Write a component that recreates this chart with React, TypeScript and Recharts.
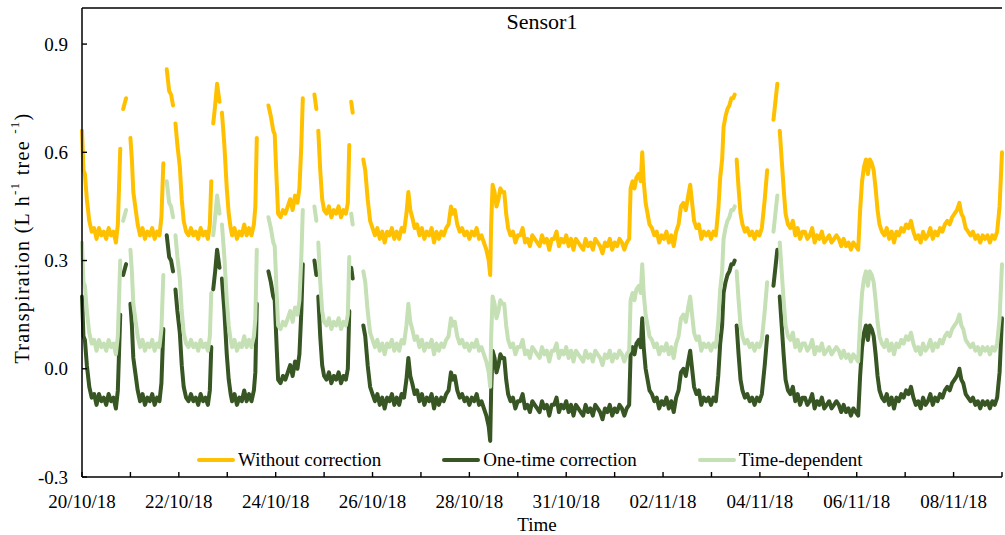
import { Label, Legend, Line, LineChart, ReferenceLine, XAxis, YAxis } from "recharts";

const FONT = '"Liberation Serif", "Times New Roman", serif';
const INK = "#000";

// x positions are in axis intervals (one tick step = 1)
const dateLabels = ["20/10/18", "22/10/18", "24/10/18", "26/10/18", "28/10/18", "31/10/18", "02/11/18", "04/11/18", "06/11/18", "08/11/18"];
const xTicks = [0, 1, 2, 3, 4, 5, 6, 7, 8, 9, 10, 11, 12, 13, 14, 15, 16, 17, 18, 19];
const yTicks = [-0.3, 0, 0.3, 0.6, 0.9];
const seriesNames = ["Without correction", "One-time correction", "Time-dependent"];

const dayIndex = [
  0, 0.03, 0.06, 0.1, 0.15, 0.2, 0.25, 0.3, 0.35, 0.4, 0.45, 0.5, 0.55, 0.6, 0.65, 0.7, 0.74,
  0.79, 0.82, 0.85, 0.91, 0.95, 1, 1.03, 1.06, 1.1, 1.15,
  1.2, 1.25, 1.3, 1.35, 1.4, 1.45, 1.5, 1.55, 1.6, 1.64,
  1.68, 1.72, 1.75, 1.8, 1.84, 1.88, 1.91, 1.93, 1.97, 2.02, 2.06, 2.1, 2.15,
  2.2, 2.25, 2.3, 2.35, 2.4, 2.45, 2.5, 2.55, 2.6, 2.64,
  2.67, 2.69, 2.71, 2.75, 2.79, 2.84, 2.87, 2.89, 2.94, 2.99, 3.03, 3.07,
  3.1, 3.15, 3.2, 3.25, 3.3, 3.35, 3.4, 3.45, 3.5, 3.55, 3.58, 3.61,
  3.64, 3.85, 3.9, 3.95, 3.98, 4.02, 4.05,
  4.1, 4.15, 4.2, 4.25, 4.3, 4.35, 4.4, 4.45, 4.49, 4.53, 4.56,
  4.6, 4.8, 4.84, 4.86, 4.88, 4.92, 4.96, 5,
  5.05, 5.1, 5.15, 5.2, 5.25, 5.3, 5.35, 5.4, 5.45, 5.49, 5.52,
  5.54, 5.56, 5.59, 5.62, 5.81, 5.85, 5.9, 5.95, 6,
  6.05, 6.1, 6.15, 6.2, 6.25, 6.3, 6.35, 6.4, 6.45, 6.5, 6.55, 6.6, 6.65,
  6.7, 6.74, 6.78, 6.82, 6.87, 6.92, 6.97, 7.02, 7.07, 7.12,
  7.17, 7.22, 7.27, 7.32, 7.37, 7.42, 7.47, 7.52, 7.57,
  7.62, 7.66, 7.7, 7.75, 7.8, 7.85, 7.9, 7.95, 8, 8.05, 8.1,
  8.15, 8.2, 8.25, 8.3, 8.35, 8.4, 8.43,
  8.45, 8.48, 8.52, 8.56, 8.6, 8.64, 8.68, 8.72, 8.76, 8.8,
  8.85, 8.9, 8.95, 9, 9.05, 9.1, 9.15, 9.2, 9.25, 9.3, 9.35, 9.4, 9.45, 9.5, 9.55, 9.6, 9.65, 9.7, 9.75, 9.8,
  9.85, 9.9, 9.95, 10, 10.05, 10.1, 10.15, 10.2, 10.25, 10.3, 10.35, 10.4, 10.45, 10.5, 10.55, 10.6, 10.65, 10.7, 10.75, 10.8,
  10.85, 10.9, 10.95, 11, 11.05, 11.1, 11.15, 11.2, 11.25, 11.3,
  11.33, 11.37, 11.41, 11.45, 11.5, 11.54, 11.57, 11.6, 11.64, 11.68, 11.72, 11.77,
  11.82, 11.87, 11.92, 11.97, 12.02, 12.07, 12.12, 12.17, 12.22, 12.27, 12.32,
  12.37, 12.42, 12.47, 12.52, 12.56, 12.6, 12.64, 12.69,
  12.74, 12.79, 12.84, 12.89, 12.94, 12.99, 13.04, 13.09,
  13.14, 13.18, 13.22, 13.25, 13.29, 13.33, 13.37, 13.41, 13.45, 13.48,
  13.5, 13.52, 13.56, 13.6, 13.64, 13.69, 13.74, 13.79, 13.84, 13.89, 13.94, 13.99, 14.04,
  14.1, 14.15, 14.18, 14.28, 14.32, 14.36, 14.38, 14.41, 14.45, 14.49, 14.53, 14.58,
  14.63, 14.68, 14.73, 14.78, 14.83, 14.88, 14.93, 14.98, 15.03, 15.08, 15.13, 15.18, 15.23, 15.28, 15.33, 15.38, 15.43, 15.48, 15.53, 15.58,
  15.63, 15.68, 15.73, 15.78, 15.83, 15.88, 15.93, 15.98, 16.03,
  16.07, 16.11, 16.15, 16.19, 16.23, 16.27, 16.31, 16.35, 16.39, 16.43, 16.47, 16.52,
  16.57, 16.62, 16.67, 16.72, 16.77, 16.82, 16.87, 16.92, 16.97, 17.02, 17.07, 17.12, 17.17, 17.22, 17.27, 17.32, 17.37, 17.42, 17.47, 17.52,
  17.57, 17.62, 17.67, 17.72, 17.77, 17.82, 17.87, 17.92, 17.97, 18.02, 18.07, 18.12, 18.16, 18.2, 18.25, 18.3,
  18.35, 18.4, 18.45, 18.5, 18.55, 18.6, 18.65, 18.7, 18.75, 18.8, 18.85, 18.9, 18.95, 19,
];

// null = missing sample, the line breaks there
const withoutCorrection = [
  0.66, 0.55, 0.54, 0.47, 0.41, 0.38, 0.39, 0.36, 0.39, 0.37, 0.38, 0.36, 0.39, 0.37, 0.38, 0.35, 0.4,
  0.61, null, 0.72, 0.75, null, 0.64, 0.58, 0.49, 0.45, 0.4,
  0.37, 0.39, 0.36, 0.38, 0.37, 0.39, 0.36, 0.38, 0.37, 0.42,
  0.57, null, 0.83, 0.77, 0.76, 0.73, null, 0.68, 0.62, 0.56, 0.47, 0.41, 0.38,
  0.37, 0.39, 0.37, 0.38, 0.36, 0.39, 0.37, 0.38, 0.36, 0.4,
  0.52, null, 0.68, 0.73, 0.79, 0.74, null, 0.71, 0.62, 0.5, 0.43, 0.39,
  0.37, 0.39, 0.36, 0.38, 0.37, 0.4, 0.37, 0.39, 0.37, 0.4, 0.45, 0.64,
  null, 0.73, 0.7, 0.66, 0.65, 0.52, 0.43,
  0.42, 0.44, 0.43, 0.45, 0.47, 0.44, 0.48, 0.46, 0.5, 0.62, 0.75,
  null, 0.76, 0.72, null, 0.66, 0.55, 0.47, 0.44,
  0.43, 0.45, 0.42, 0.44, 0.43, 0.45, 0.42, 0.44, 0.43, 0.46, 0.62,
  null, 0.74, 0.71, null, 0.58, 0.55, 0.47, 0.41, 0.39,
  0.37, 0.39, 0.36, 0.38, 0.35, 0.38, 0.37, 0.39, 0.36, 0.38, 0.36, 0.39, 0.38,
  0.43, 0.49, 0.44, 0.42, 0.39, 0.4, 0.37, 0.39, 0.36, 0.38,
  0.37, 0.39, 0.35, 0.38, 0.36, 0.38, 0.37, 0.39, 0.4,
  0.45, 0.43, 0.44, 0.4, 0.38, 0.39, 0.37, 0.38, 0.36, 0.38, 0.37,
  0.39, 0.36, 0.37, 0.35, 0.33, 0.3, 0.26,
  0.4, 0.51, 0.49, 0.45, 0.47, 0.5, 0.49, 0.49, 0.43, 0.39,
  0.37, 0.38, 0.35, 0.37, 0.37, 0.39, 0.35, 0.36, 0.34, 0.37, 0.36, 0.35, 0.34, 0.37, 0.35, 0.36, 0.33, 0.36, 0.36, 0.38,
  0.34, 0.36, 0.35, 0.37, 0.34, 0.36, 0.33, 0.36, 0.35, 0.34, 0.33, 0.36, 0.34, 0.35, 0.33, 0.36, 0.35, 0.34, 0.32, 0.35,
  0.34, 0.36, 0.33, 0.35, 0.34, 0.36, 0.35, 0.33, 0.35, 0.36,
  0.5, 0.52, 0.5, 0.53, 0.54, 0.52, 0.6, 0.52, 0.46, 0.43, 0.4, 0.39,
  0.37, 0.38, 0.35, 0.37, 0.36, 0.38, 0.35, 0.37, 0.34, 0.38, 0.4,
  0.45, 0.46, 0.44, 0.48, 0.51, 0.46, 0.41, 0.39,
  0.4, 0.36, 0.38, 0.37, 0.38, 0.36, 0.38, 0.37,
  0.44, 0.53, 0.58, 0.67, 0.7, 0.72, 0.73, 0.75, 0.75, 0.76,
  null, 0.58, 0.5, 0.43, 0.4, 0.38, 0.39, 0.37, 0.38, 0.36, 0.38, 0.37, 0.39,
  0.47, 0.55, null, 0.69, 0.74, 0.79, null, 0.66, 0.58, 0.5, 0.43, 0.4,
  0.39, 0.41, 0.37, 0.39, 0.36, 0.38, 0.38, 0.36, 0.37, 0.39, 0.35, 0.37, 0.36, 0.38, 0.35, 0.36, 0.37, 0.35, 0.36, 0.37,
  0.36, 0.34, 0.36, 0.34, 0.35, 0.33, 0.35, 0.34, 0.33,
  0.44, 0.52, 0.56, 0.58, 0.54, 0.58, 0.57, 0.55, 0.5, 0.44, 0.4, 0.38,
  0.37, 0.39, 0.36, 0.38, 0.35, 0.38, 0.37, 0.39, 0.38, 0.4, 0.39, 0.41, 0.38, 0.36, 0.37, 0.35, 0.38, 0.36, 0.37, 0.39,
  0.36, 0.38, 0.37, 0.39, 0.38, 0.4, 0.41, 0.4, 0.42, 0.43, 0.44, 0.46, 0.43, 0.42, 0.39, 0.38,
  0.37, 0.38, 0.36, 0.37, 0.35, 0.37, 0.36, 0.37, 0.35, 0.37, 0.36, 0.38, 0.45, 0.6,
];

const oneTimeCorrection = [
  0.2, 0.09, 0.08, 0.01, -0.05, -0.08, -0.07, -0.1, -0.07, -0.09, -0.08, -0.1, -0.07, -0.09, -0.08, -0.11, -0.06,
  0.15, null, 0.26, 0.29, null, 0.18, 0.12, 0.03, -0.01, -0.06,
  -0.09, -0.07, -0.1, -0.08, -0.09, -0.07, -0.1, -0.08, -0.09, -0.04,
  0.11, null, 0.37, 0.31, 0.3, 0.27, null, 0.22, 0.16, 0.1, 0.01, -0.05, -0.08,
  -0.09, -0.07, -0.09, -0.08, -0.1, -0.07, -0.09, -0.08, -0.1, -0.06,
  0.06, null, 0.22, 0.27, 0.33, 0.28, null, 0.25, 0.16, 0.04, -0.03, -0.07,
  -0.09, -0.07, -0.1, -0.08, -0.09, -0.06, -0.09, -0.07, -0.09, -0.06, -0.01, 0.18,
  null, 0.27, 0.24, 0.2, 0.19, 0.06, -0.03,
  -0.04, -0.02, -0.03, -0.01, 0.01, -0.02, 0.02, 0, 0.04, 0.16, 0.29,
  null, 0.3, 0.26, null, 0.2, 0.09, 0.01, -0.02,
  -0.03, -0.01, -0.04, -0.02, -0.03, -0.01, -0.04, -0.02, -0.03, 0, 0.16,
  null, 0.28, 0.25, null, 0.12, 0.09, 0.01, -0.05, -0.07,
  -0.09, -0.07, -0.1, -0.08, -0.11, -0.08, -0.09, -0.07, -0.1, -0.08, -0.1, -0.07, -0.08,
  -0.03, 0.03, -0.02, -0.04, -0.07, -0.06, -0.09, -0.07, -0.1, -0.08,
  -0.09, -0.07, -0.11, -0.08, -0.1, -0.08, -0.09, -0.07, -0.06,
  -0.01, -0.03, -0.02, -0.06, -0.08, -0.07, -0.09, -0.08, -0.1, -0.08, -0.09,
  -0.07, -0.1, -0.09, -0.11, -0.13, -0.16, -0.2,
  -0.06, 0.05, 0.03, -0.01, 0.01, 0.04, 0.03, 0.03, -0.03, -0.07,
  -0.09, -0.08, -0.11, -0.09, -0.09, -0.07, -0.11, -0.1, -0.12, -0.09, -0.1, -0.11, -0.12, -0.09, -0.11, -0.1, -0.13, -0.1, -0.1, -0.08,
  -0.12, -0.1, -0.11, -0.09, -0.12, -0.1, -0.13, -0.1, -0.11, -0.12, -0.13, -0.1, -0.12, -0.11, -0.13, -0.1, -0.11, -0.12, -0.14, -0.11,
  -0.12, -0.1, -0.13, -0.11, -0.12, -0.1, -0.11, -0.13, -0.11, -0.1,
  0.04, 0.06, 0.04, 0.07, 0.08, 0.06, 0.14, 0.06, 0, -0.03, -0.06, -0.07,
  -0.09, -0.08, -0.11, -0.09, -0.1, -0.08, -0.11, -0.09, -0.12, -0.08, -0.06,
  -0.01, 0, -0.02, 0.02, 0.05, 0, -0.05, -0.07,
  -0.06, -0.1, -0.08, -0.09, -0.08, -0.1, -0.08, -0.09,
  -0.02, 0.07, 0.12, 0.21, 0.24, 0.26, 0.27, 0.29, 0.29, 0.3,
  null, 0.12, 0.04, -0.03, -0.06, -0.08, -0.07, -0.09, -0.08, -0.1, -0.08, -0.09, -0.07,
  0.01, 0.09, null, 0.23, 0.28, 0.33, null, 0.2, 0.12, 0.04, -0.03, -0.06,
  -0.07, -0.05, -0.09, -0.07, -0.1, -0.08, -0.08, -0.1, -0.09, -0.07, -0.11, -0.09, -0.1, -0.08, -0.11, -0.1, -0.09, -0.11, -0.1, -0.09,
  -0.1, -0.12, -0.1, -0.12, -0.11, -0.13, -0.11, -0.12, -0.13,
  -0.02, 0.06, 0.1, 0.12, 0.08, 0.12, 0.11, 0.09, 0.04, -0.02, -0.06, -0.08,
  -0.09, -0.07, -0.1, -0.08, -0.11, -0.08, -0.09, -0.07, -0.08, -0.06, -0.07, -0.05, -0.08, -0.1, -0.09, -0.11, -0.08, -0.1, -0.09, -0.07,
  -0.1, -0.08, -0.09, -0.07, -0.08, -0.06, -0.05, -0.06, -0.04, -0.03, -0.02, 0, -0.03, -0.04, -0.07, -0.08,
  -0.09, -0.08, -0.1, -0.09, -0.11, -0.09, -0.1, -0.09, -0.11, -0.09, -0.1, -0.08, -0.01, 0.14,
];

const timeDependent = [
  0.35, 0.24, 0.23, 0.16, 0.1, 0.07, 0.08, 0.05, 0.08, 0.06, 0.07, 0.05, 0.08, 0.06, 0.07, 0.04, 0.09,
  0.3, null, 0.41, 0.44, null, 0.33, 0.27, 0.18, 0.14, 0.09,
  0.06, 0.08, 0.05, 0.07, 0.06, 0.08, 0.05, 0.07, 0.06, 0.11,
  0.26, null, 0.52, 0.46, 0.45, 0.42, null, 0.37, 0.31, 0.25, 0.16, 0.1, 0.07,
  0.06, 0.08, 0.06, 0.07, 0.05, 0.08, 0.06, 0.07, 0.05, 0.09,
  0.21, null, 0.37, 0.42, 0.48, 0.43, null, 0.4, 0.31, 0.19, 0.12, 0.08,
  0.06, 0.08, 0.05, 0.07, 0.06, 0.09, 0.06, 0.08, 0.06, 0.09, 0.14, 0.33,
  null, 0.42, 0.39, 0.35, 0.34, 0.21, 0.12,
  0.11, 0.13, 0.12, 0.14, 0.16, 0.13, 0.17, 0.15, 0.19, 0.31, 0.44,
  null, 0.45, 0.41, null, 0.35, 0.24, 0.16, 0.13,
  0.12, 0.14, 0.11, 0.13, 0.12, 0.14, 0.11, 0.13, 0.12, 0.15, 0.31,
  null, 0.43, 0.4, null, 0.27, 0.24, 0.16, 0.1, 0.08,
  0.06, 0.08, 0.05, 0.07, 0.04, 0.07, 0.06, 0.08, 0.05, 0.07, 0.05, 0.08, 0.07,
  0.12, 0.18, 0.13, 0.11, 0.08, 0.09, 0.06, 0.08, 0.05, 0.07,
  0.06, 0.08, 0.04, 0.07, 0.05, 0.07, 0.06, 0.08, 0.09,
  0.14, 0.12, 0.13, 0.09, 0.07, 0.08, 0.06, 0.07, 0.05, 0.07, 0.06,
  0.08, 0.05, 0.06, 0.04, 0.02, -0.01, -0.05,
  0.09, 0.2, 0.18, 0.14, 0.16, 0.19, 0.18, 0.18, 0.12, 0.08,
  0.06, 0.07, 0.04, 0.06, 0.06, 0.08, 0.04, 0.05, 0.03, 0.06, 0.05, 0.04, 0.03, 0.06, 0.04, 0.05, 0.02, 0.05, 0.05, 0.07,
  0.03, 0.05, 0.04, 0.06, 0.03, 0.05, 0.02, 0.05, 0.04, 0.03, 0.02, 0.05, 0.03, 0.04, 0.02, 0.05, 0.04, 0.03, 0.01, 0.04,
  0.03, 0.05, 0.02, 0.04, 0.03, 0.05, 0.04, 0.02, 0.04, 0.05,
  0.19, 0.21, 0.19, 0.22, 0.23, 0.21, 0.29, 0.21, 0.15, 0.12, 0.09, 0.08,
  0.06, 0.07, 0.04, 0.06, 0.05, 0.07, 0.04, 0.06, 0.03, 0.07, 0.09,
  0.14, 0.15, 0.13, 0.17, 0.2, 0.15, 0.1, 0.08,
  0.09, 0.05, 0.07, 0.06, 0.07, 0.05, 0.07, 0.06,
  0.13, 0.22, 0.27, 0.36, 0.39, 0.41, 0.42, 0.44, 0.44, 0.45,
  null, 0.27, 0.19, 0.12, 0.09, 0.07, 0.08, 0.06, 0.07, 0.05, 0.07, 0.06, 0.08,
  0.16, 0.24, null, 0.38, 0.43, 0.48, null, 0.35, 0.27, 0.19, 0.12, 0.09,
  0.08, 0.1, 0.06, 0.08, 0.05, 0.07, 0.07, 0.05, 0.06, 0.08, 0.04, 0.06, 0.05, 0.07, 0.04, 0.05, 0.06, 0.04, 0.05, 0.06,
  0.05, 0.03, 0.05, 0.03, 0.04, 0.02, 0.04, 0.03, 0.02,
  0.13, 0.21, 0.25, 0.27, 0.23, 0.27, 0.26, 0.24, 0.19, 0.13, 0.09, 0.07,
  0.06, 0.08, 0.05, 0.07, 0.04, 0.07, 0.06, 0.08, 0.07, 0.09, 0.08, 0.1, 0.07, 0.05, 0.06, 0.04, 0.07, 0.05, 0.06, 0.08,
  0.05, 0.07, 0.06, 0.08, 0.07, 0.09, 0.1, 0.09, 0.11, 0.12, 0.13, 0.15, 0.12, 0.11, 0.08, 0.07,
  0.06, 0.07, 0.05, 0.06, 0.04, 0.06, 0.05, 0.06, 0.04, 0.06, 0.05, 0.07, 0.14, 0.29,
];

const rows = dayIndex.map((t, i) => ({
  t,
  without: withoutCorrection[i],
  oneTime: oneTimeCorrection[i],
  timeDep: timeDependent[i],
}));

// ticks point into the plot, labels only on every second tick
function XTick({ x, y, payload }: any) {
  const v = payload.value as number;
  const label = v % 2 === 0 ? dateLabels[v / 2] : "";
  return (
    <g>
      <line x1={x} x2={x} y1={y} y2={y - 5} stroke={INK} strokeWidth={1.4} />
      {label && (
        <text x={x} y={y + 31} textAnchor="middle" fontSize={19} fontFamily={FONT} fill={INK}>
          {label}
        </text>
      )}
    </g>
  );
}

function YTick({ x, y, payload }: any) {
  return (
    <g>
      <line x1={x} x2={x + 5} y1={y} y2={y} stroke={INK} strokeWidth={1.4} />
      <text x={x - 14} y={y} dy="0.35em" textAnchor="end" fontSize={19} fontFamily={FONT} fill={INK}>
        {Number(payload.value).toFixed(1)}
      </text>
    </g>
  );
}

function renderLegend({ payload }: any) {
  const items = [...(payload || [])].sort((a: any, b: any) => seriesNames.indexOf(a.value) - seriesNames.indexOf(b.value));
  return (
    <div style={{ display: "flex", alignItems: "center", gap: 61, fontFamily: FONT, fontSize: 19, lineHeight: "24px", color: INK, whiteSpace: "nowrap" }}>
      {items.map((entry: any) => (
        <div key={entry.value} style={{ display: "flex", alignItems: "center" }}>
          <span style={{ width: 38, height: 4, borderRadius: 2, background: entry.color, marginRight: 3 }} />
          <span>{entry.value}</span>
        </div>
      ))}
    </div>
  );
}

const yTitle = () => (
  <text
    x={22}
    y={238}
    transform="rotate(-90 22 238)"
    textAnchor="middle"
    dominantBaseline="central"
    fontSize={20}
    letterSpacing={1.3}
    fontFamily={FONT}
    fill={INK}
  >
    Transpiration (L h<tspan baselineShift="super" fontSize={13}>-1</tspan> tree <tspan baselineShift="super" fontSize={13}>-1</tspan>)
  </text>
);

const xTitle = () => (
  <text x={537} y={531} textAnchor="middle" fontSize={19} fontFamily={FONT} fill={INK}>
    Time
  </text>
);

export default function App() {
  return (
    <div style={{ position: "absolute", left: 0, top: 0, width: 1005, height: 535, background: "#fff", fontFamily: FONT }}>
      <LineChart width={1005} height={535} data={rows} margin={{ top: 8, right: 3, bottom: 0, left: 0 }}>
        <XAxis
          dataKey="t"
          type="number"
          domain={[0, 19]}
          ticks={xTicks}
          interval={0}
          height={58}
          tickSize={0}
          tickMargin={0}
          tickLine={false}
          tick={<XTick />}
          axisLine={{ stroke: INK, strokeWidth: 1.5 }}
        >
          <Label content={xTitle} />
        </XAxis>
        <YAxis
          type="number"
          domain={[-0.3, 1.0]}
          ticks={yTicks}
          width={82}
          tickSize={0}
          tickMargin={0}
          tickLine={false}
          tick={<YTick />}
          axisLine={{ stroke: INK, strokeWidth: 1.5 }}
        >
          <Label content={yTitle} />
        </YAxis>
        <ReferenceLine y={1.0} stroke={INK} strokeWidth={1.5} />
        <Legend
          layout="horizontal"
          verticalAlign="middle"
          align="center"
          content={renderLegend}
          wrapperStyle={{ top: 448, left: 197, width: "auto" }}
        />
        <Line
          type="linear"
          dataKey="without"
          name="Without correction"
          stroke="#FFC000"
          strokeWidth={4}
          strokeLinecap="round"
          strokeLinejoin="round"
          dot={false}
          activeDot={false}
          connectNulls={false}
          isAnimationActive={false}
        />
        <Line
          type="linear"
          dataKey="oneTime"
          name="One-time correction"
          stroke="#375623"
          strokeWidth={4}
          strokeLinecap="round"
          strokeLinejoin="round"
          dot={false}
          activeDot={false}
          connectNulls={false}
          isAnimationActive={false}
        />
        <Line
          type="linear"
          dataKey="timeDep"
          name="Time-dependent"
          stroke="#C5E0B4"
          strokeWidth={4}
          strokeLinecap="round"
          strokeLinejoin="round"
          dot={false}
          activeDot={false}
          connectNulls={false}
          isAnimationActive={false}
        />
      </LineChart>
      <div style={{ position: "absolute", left: 442, top: 9, width: 200, textAlign: "center", fontSize: 22, lineHeight: "26px", color: INK }}>
        Sensor1
      </div>
    </div>
  );
}
